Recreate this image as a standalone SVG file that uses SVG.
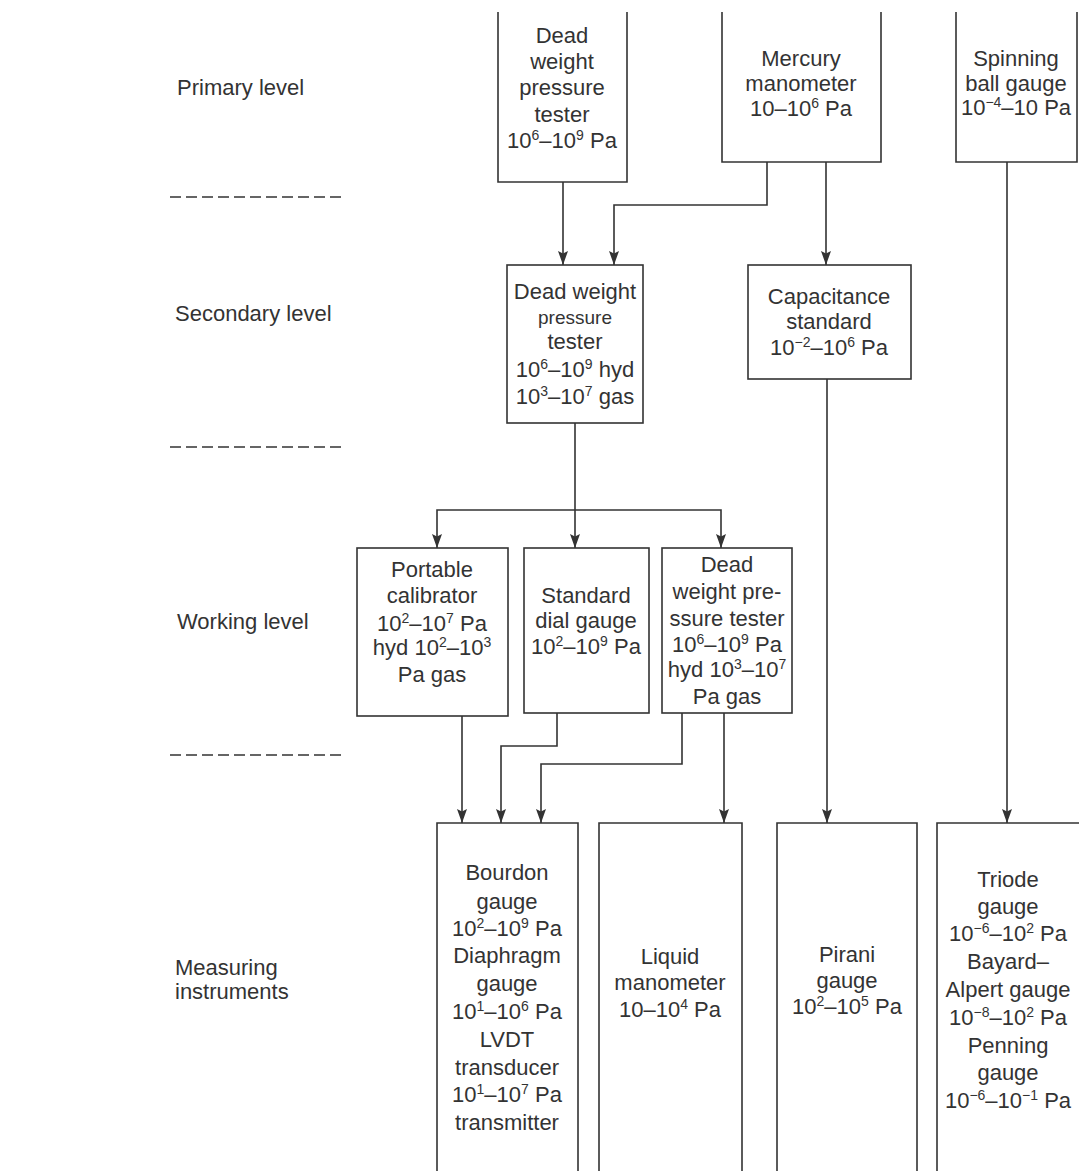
<svg xmlns="http://www.w3.org/2000/svg" width="1079" height="1171" viewBox="0 0 1079 1171">
<style>
.bg{fill:#ffffff}
.box{fill:none;stroke:#333;stroke-width:1.6}
.con{fill:none;stroke:#333;stroke-width:1.6}
.dash{fill:none;stroke:#333;stroke-width:1.6;stroke-dasharray:11 5}
.t{font-family:"Liberation Sans",Arial,sans-serif;font-size:22px;fill:#333;text-anchor:middle}
.l{font-family:"Liberation Sans",Arial,sans-serif;font-size:22px;fill:#333;text-anchor:start}
.s{font-size:14px}
.sm{font-size:19px}
</style>
<defs>
<marker id="arr" markerUnits="userSpaceOnUse" markerWidth="16" markerHeight="12" refX="14" refY="6" orient="auto">
<path d="M0,1 L14,6 L0,11 L2.5,6 z" fill="#333"/>
</marker>
</defs>
<rect class="bg" x="0" y="0" width="1079" height="1171"/>

<g id="levels">
<text class="l" x="177" y="95">Primary level</text>
<text class="l" x="175" y="321">Secondary level</text>
<text class="l" x="177" y="629">Working level</text>
<text class="l" x="175" y="975">Measuring</text>
<text class="l" x="175" y="999">instruments</text>
<path class="dash" d="M170,197 H345 M170,447 H345 M170,755 H345"/>
</g>

<g id="connectors">
<path class="con" d="M563,182 V265" marker-end="url(#arr)"/>
<path class="con" d="M767,162 V205 H614 V265" marker-end="url(#arr)"/>
<path class="con" d="M826,162 V265" marker-end="url(#arr)"/>
<path class="con" d="M1007,162 V823" marker-end="url(#arr)"/>
<path class="con" d="M575,423 V548" marker-end="url(#arr)"/>
<path class="con" d="M575,510 H437 V548" marker-end="url(#arr)"/>
<path class="con" d="M575,510 H721 V548" marker-end="url(#arr)"/>
<path class="con" d="M827,379 V823" marker-end="url(#arr)"/>
<path class="con" d="M462,716 V823" marker-end="url(#arr)"/>
<path class="con" d="M557,713 V746 H501 V823" marker-end="url(#arr)"/>
<path class="con" d="M682,713 V764 H541 V823" marker-end="url(#arr)"/>
<path class="con" d="M724,713 V823" marker-end="url(#arr)"/>
</g>

<g id="primary-deadweight">
<path class="box" d="M498,12 V182 H627 V12"/>
<text class="t" x="562" y="43">Dead</text>
<text class="t" x="562" y="69">weight</text>
<text class="t" x="562" y="95">pressure</text>
<text class="t" x="562" y="122">tester</text>
<text class="t" x="562" y="148">10<tspan class="s" dy="-8">6</tspan><tspan dy="8">–10</tspan><tspan class="s" dy="-8">9</tspan><tspan dy="8"> Pa</tspan></text>
</g>

<g id="primary-mercury">
<path class="box" d="M722,12 V162 H881 V12"/>
<text class="t" x="801" y="66">Mercury</text>
<text class="t" x="801" y="91">manometer</text>
<text class="t" x="801" y="116">10–10<tspan class="s" dy="-8">6</tspan><tspan dy="8"> Pa</tspan></text>
</g>

<g id="primary-spinning">
<path class="box" d="M956,12 V162 H1077 V12"/>
<text class="t" x="1016" y="66">Spinning</text>
<text class="t" x="1016" y="91">ball gauge</text>
<text class="t" x="1016" y="115">10<tspan class="s" dy="-8">−4</tspan><tspan dy="8">–10 Pa</tspan></text>
</g>

<g id="secondary-deadweight">
<rect class="box" x="507" y="265" width="136" height="158"/>
<text class="t" x="575" y="299">Dead weight</text>
<text class="t sm" x="575" y="324">pressure</text>
<text class="t" x="575" y="349">tester</text>
<text class="t" x="575" y="377">10<tspan class="s" dy="-8">6</tspan><tspan dy="8">–10</tspan><tspan class="s" dy="-8">9</tspan><tspan dy="8"> hyd</tspan></text>
<text class="t" x="575" y="404">10<tspan class="s" dy="-8">3</tspan><tspan dy="8">–10</tspan><tspan class="s" dy="-8">7</tspan><tspan dy="8"> gas</tspan></text>
</g>

<g id="secondary-capacitance">
<rect class="box" x="748" y="265" width="163" height="114"/>
<text class="t" x="829" y="304">Capacitance</text>
<text class="t" x="829" y="329">standard</text>
<text class="t" x="829" y="355">10<tspan class="s" dy="-8">−2</tspan><tspan dy="8">–10</tspan><tspan class="s" dy="-8">6</tspan><tspan dy="8"> Pa</tspan></text>
</g>

<g id="working-portable">
<rect class="box" x="357" y="548" width="151" height="168"/>
<text class="t" x="432" y="577">Portable</text>
<text class="t" x="432" y="603">calibrator</text>
<text class="t" x="432" y="631">10<tspan class="s" dy="-8">2</tspan><tspan dy="8">–10</tspan><tspan class="s" dy="-8">7</tspan><tspan dy="8"> Pa</tspan></text>
<text class="t" x="432" y="655">hyd 10<tspan class="s" dy="-8">2</tspan><tspan dy="8">–10</tspan><tspan class="s" dy="-8">3</tspan></text>
<text class="t" x="432" y="682">Pa gas</text>
</g>

<g id="working-dial">
<rect class="box" x="524" y="548" width="125" height="165"/>
<text class="t" x="586" y="603">Standard</text>
<text class="t" x="586" y="628">dial gauge</text>
<text class="t" x="586" y="654">10<tspan class="s" dy="-8">2</tspan><tspan dy="8">–10</tspan><tspan class="s" dy="-8">9</tspan><tspan dy="8"> Pa</tspan></text>
</g>

<g id="working-deadweight">
<rect class="box" x="662" y="548" width="130" height="165"/>
<text class="t" x="727" y="572">Dead</text>
<text class="t" x="727" y="599">weight pre-</text>
<text class="t" x="727" y="626">ssure tester</text>
<text class="t" x="727" y="652">10<tspan class="s" dy="-8">6</tspan><tspan dy="8">–10</tspan><tspan class="s" dy="-8">9</tspan><tspan dy="8"> Pa</tspan></text>
<text class="t" x="727" y="677">hyd 10<tspan class="s" dy="-8">3</tspan><tspan dy="8">–10</tspan><tspan class="s" dy="-8">7</tspan></text>
<text class="t" x="727" y="704">Pa gas</text>
</g>

<g id="measuring-bourdon">
<path class="box" d="M437,1171 V823 H578 V1171"/>
<text class="t" x="507" y="880">Bourdon</text>
<text class="t" x="507" y="909">gauge</text>
<text class="t" x="507" y="936">10<tspan class="s" dy="-8">2</tspan><tspan dy="8">–10</tspan><tspan class="s" dy="-8">9</tspan><tspan dy="8"> Pa</tspan></text>
<text class="t" x="507" y="963">Diaphragm</text>
<text class="t" x="507" y="991">gauge</text>
<text class="t" x="507" y="1019">10<tspan class="s" dy="-8">1</tspan><tspan dy="8">–10</tspan><tspan class="s" dy="-8">6</tspan><tspan dy="8"> Pa</tspan></text>
<text class="t" x="507" y="1047">LVDT</text>
<text class="t" x="507" y="1075">transducer</text>
<text class="t" x="507" y="1102">10<tspan class="s" dy="-8">1</tspan><tspan dy="8">–10</tspan><tspan class="s" dy="-8">7</tspan><tspan dy="8"> Pa</tspan></text>
<text class="t" x="507" y="1130">transmitter</text>
</g>

<g id="measuring-liquid">
<path class="box" d="M599,1171 V823 H742 V1171"/>
<text class="t" x="670" y="964">Liquid</text>
<text class="t" x="670" y="990">manometer</text>
<text class="t" x="670" y="1017">10–10<tspan class="s" dy="-8">4</tspan><tspan dy="8"> Pa</tspan></text>
</g>

<g id="measuring-pirani">
<path class="box" d="M777,1171 V823 H917 V1171"/>
<text class="t" x="847" y="962">Pirani</text>
<text class="t" x="847" y="988">gauge</text>
<text class="t" x="847" y="1014">10<tspan class="s" dy="-8">2</tspan><tspan dy="8">–10</tspan><tspan class="s" dy="-8">5</tspan><tspan dy="8"> Pa</tspan></text>
</g>

<g id="measuring-triode">
<path class="box" d="M937,1171 V823 H1080"/>
<text class="t" x="1008" y="887">Triode</text>
<text class="t" x="1008" y="914">gauge</text>
<text class="t" x="1008" y="941">10<tspan class="s" dy="-8">−6</tspan><tspan dy="8">–10</tspan><tspan class="s" dy="-8">2</tspan><tspan dy="8"> Pa</tspan></text>
<text class="t" x="1008" y="969">Bayard–</text>
<text class="t" x="1008" y="997">Alpert gauge</text>
<text class="t" x="1008" y="1025">10<tspan class="s" dy="-8">−8</tspan><tspan dy="8">–10</tspan><tspan class="s" dy="-8">2</tspan><tspan dy="8"> Pa</tspan></text>
<text class="t" x="1008" y="1053">Penning</text>
<text class="t" x="1008" y="1080">gauge</text>
<text class="t" x="1008" y="1108">10<tspan class="s" dy="-8">−6</tspan><tspan dy="8">–10</tspan><tspan class="s" dy="-8">−1</tspan><tspan dy="8"> Pa</tspan></text>
</g>
</svg>
